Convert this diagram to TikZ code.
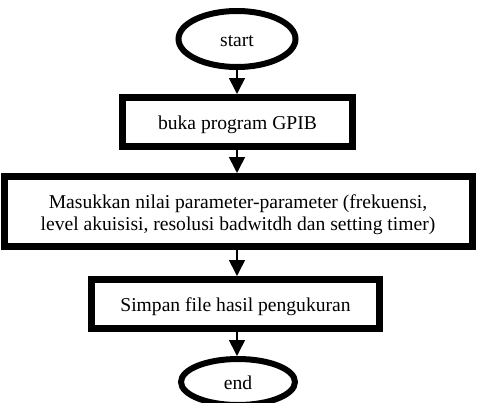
\documentclass[tikz,border=0pt]{standalone}
\usepackage{fontspec}
\setmainfont{Liberation Serif}
\usetikzlibrary{arrows.meta,shapes.geometric}
\tikzset{
  procbox/.style={draw=black, line width=7pt, fill=white, rectangle, inner sep=0pt,
    font=\fontsize{19.6}{22}\selectfont, align=center, text height=14pt, text depth=0pt},
  termnode/.style={draw=black, line width=6pt, fill=white, ellipse, inner sep=0pt,
    font=\fontsize{19.6}{22}\selectfont, text height=14pt, text depth=0pt},
  flow/.style={line width=1.6pt, -{Triangle[width=16pt,length=16pt]}}
}
\begin{document}
\begin{tikzpicture}[x=1pt,y=-1pt]
\useasboundingbox (0,0) rectangle (478,402);
\node[termnode, minimum width=117pt, minimum height=56pt] (start) at (237,39) {start};
\node[procbox, minimum width=230pt, minimum height=49pt] (b1) at (237.5,122) {buka program GPIB};
\node[procbox, minimum width=468pt, minimum height=70pt, text height=37pt] (b2) at (238,211.5)
  {Masukkan nilai parameter-parameter (frekuensi,\\level akuisisi, resolusi badwitdh dan setting timer)};
\node[procbox, minimum width=288pt, minimum height=49pt] (b3) at (235.5,304) {Simpan file hasil pengukuran};
\node[termnode, minimum width=114pt, minimum height=46pt] (end) at (238,382) {end};
\draw[flow] (start.south) -- (start.south |- b1.north);
\draw[flow] (start.south |- b1.south) -- (start.south |- b2.north);
\draw[flow] (start.south |- b2.south) -- (start.south |- b3.north);
\draw[flow] (start.south |- b3.south) -- (start.south |- end.north);
\end{tikzpicture}
\end{document}
